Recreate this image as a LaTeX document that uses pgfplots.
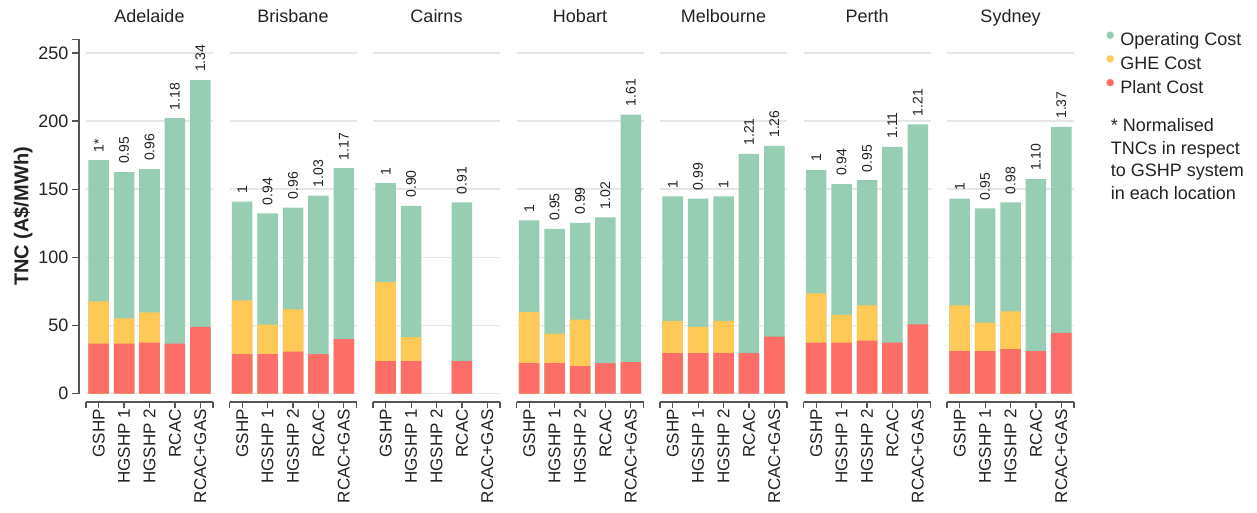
\documentclass[border=0pt]{standalone}
\usepackage{fontspec}
\setmainfont{Liberation Sans}
\usepackage{pgfplots}
\pgfplotsset{compat=1.18}
\definecolor{opc}{HTML}{97CEB3}
\definecolor{ghec}{HTML}{FEC957}
\definecolor{plc}{HTML}{FE6E68}
\definecolor{axc}{HTML}{555555}
\definecolor{gridc}{HTML}{E6E6E6}
\definecolor{txt}{HTML}{222222}
\pgfplotsset{
 panel/.style={
  scale only axis, width=127pt, height=354.4pt,
  anchor=south west,
  xmin=-0.5, xmax=4.5, ymin=0, ymax=260,
  enlargelimits=false,
  ybar, bar width=20.5pt, bar shift=0pt,
  axis x line*=bottom, axis y line*=left,
  axis x line shift=8.3pt,
  axis line style={-, draw=axc, line width=1.2pt},
  xtick={0,...,4},
  xticklabels={GSHP, HGSHP 1, HGSHP 2, RCAC, RCAC+GAS},
  extra x ticks={-0.5,4.5}, extra x tick labels={},
  ytick={0,50,...,250},
  ymajorgrids, major grid style={draw=gridc, line width=1.5pt},
  tick align=outside,
  major tick length=6.5pt,
  tick style={draw=axc, line width=1.2pt},
  xticklabel style={rotate=90, anchor=east, font=\fontsize{17}{20}\selectfont, inner xsep=0.5pt, inner ysep=0pt, text=txt},
  yticklabel style={font=\fontsize{18}{21}\selectfont, inner xsep=4pt, text=txt},
  /pgf/number format/assume math mode=true,
  title style={at={(0.5,1)}, anchor=base, yshift=10.8pt, font=\fontsize{18}{21}\selectfont, text=txt},
 },
 noy/.style={y axis line style={draw=none}, ytick style={draw=none}, yticklabels={}},
 plant/.style={fill=plc, draw=none},
 ghe/.style={fill=ghec, draw=none},
 op/.style={fill=opc, draw=none, nodes near coords, point meta=explicit symbolic,
   every node near coord/.append style={rotate=90, anchor=west, inner xsep=8pt, inner ysep=0pt, font=\fontsize{14}{16}\selectfont, text=txt}},
}
\begin{document}
\begin{tikzpicture}
\useasboundingbox (0,0) rectangle (1257pt,513pt);
% Adelaide
\begin{axis}[panel, at={(86pt,119.3pt)}, title={Adelaide},
  axis y line shift=7pt,
  extra y ticks={260}, extra y tick labels={}, extra y tick style={grid=none},
  every axis y label/.style={at={(axis description cs:-0.496,0.5)}, rotate=90, anchor=center, font=\fontsize{20}{24}\selectfont\bfseries, text=txt},
  ylabel={TNC (A\$/MWh)}]
\addplot[op] coordinates {(0,171.3) [1*] (1,162.5) [0.95] (2,164.7) [0.96] (3,202.1) [1.18] (4,230.0) [1.34]};
\addplot[ghe] coordinates {(0,67.7) (1,55.2) (2,59.6)};
\addplot[plant] coordinates {(0,36.7) (1,36.7) (2,37.4) (3,36.7) (4,49.1)};
\end{axis}
% Brisbane
\begin{axis}[panel, noy, at={(229.5pt,119.3pt)}, title={Brisbane}]
\addplot[op] coordinates {(0,141.0) [1] (1,132.2) [0.94] (2,136.6) [0.96] (3,145.4) [1.03] (4,165.4) [1.17]};
\addplot[ghe] coordinates {(0,68.4) (1,50.6) (2,61.8)};
\addplot[plant] coordinates {(0,29.1) (1,29.1) (2,30.8) (3,29.1) (4,40.1)};
\end{axis}
% Cairns
\begin{axis}[panel, noy, at={(373pt,119.3pt)}, title={Cairns}]
\addplot[op] coordinates {(0,154.4) [1] (1,137.8) [0.90] (3,140.3) [0.91]};
\addplot[ghe] coordinates {(0,81.9) (1,41.5)};
\addplot[plant] coordinates {(0,23.9) (1,23.9) (3,23.9)};
\end{axis}
% Hobart
\begin{axis}[panel, noy, at={(516.5pt,119.3pt)}, title={Hobart}]
\addplot[op] coordinates {(0,127.1) [1] (1,121.0) [0.95] (2,125.4) [0.99] (3,129.3) [1.02] (4,204.8) [1.61]};
\addplot[ghe] coordinates {(0,60.1) (1,44.0) (2,54.3)};
\addplot[plant] coordinates {(0,22.5) (1,22.5) (2,20.3) (3,22.5) (4,23.2)};
\end{axis}
% Melbourne
\begin{axis}[panel, noy, at={(660pt,119.3pt)}, title={Melbourne}]
\addplot[op] coordinates {(0,144.7) [1] (1,143.2) [0.99] (2,144.7) [1] (3,176.0) [1.21] (4,181.8) [1.26]};
\addplot[ghe] coordinates {(0,53.5) (1,49.1) (2,53.5)};
\addplot[plant] coordinates {(0,29.8) (1,29.8) (2,29.8) (3,29.8) (4,41.8)};
\end{axis}
% Perth
\begin{axis}[panel, noy, at={(803.5pt,119.3pt)}, title={Perth}]
\addplot[op] coordinates {(0,164.0) [1] (1,153.7) [0.94] (2,156.6) [0.95] (3,181.1) [1.11] (4,197.5) [1.21]};
\addplot[ghe] coordinates {(0,73.6) (1,57.9) (2,64.8)};
\addplot[plant] coordinates {(0,37.4) (1,37.4) (2,38.9) (3,37.4) (4,50.8)};
\end{axis}
% Sydney
\begin{axis}[panel, noy, at={(947pt,119.3pt)}, title={Sydney},
  legend style={draw=none, fill=none, inner sep=0pt, outer sep=0pt, at={(1,1)}, anchor=north west, xshift=32.5pt, yshift=7.8pt,
    font=\fontsize{18}{21}\selectfont, row sep=5.5pt, column sep=6.5pt,
    nodes={inner sep=0pt, text height=13pt, text depth=4pt, text=txt}},
  legend cell align=left]
\addlegendimage{legend image code/.code={\fill[opc] (0pt,6pt) circle (3.5pt);}}
\addlegendentry{Operating Cost}
\addlegendimage{legend image code/.code={\fill[ghec] (0pt,6pt) circle (3.5pt);}}
\addlegendentry{GHE Cost}
\addlegendimage{legend image code/.code={\fill[plc] (0pt,6pt) circle (3.5pt);}}
\addlegendentry{Plant Cost}
\addplot[op] coordinates {(0,143.2) [1] (1,135.9) [0.95] (2,140.3) [0.98] (3,157.4) [1.10] (4,195.7) [1.37]};
\addplot[ghe] coordinates {(0,64.8) (1,52.1) (2,60.4)};
\addplot[plant] coordinates {(0,31.3) (1,31.3) (2,32.7) (3,31.3) (4,44.7)};
\end{axis}
\node[anchor=north west, align=left, inner sep=0pt, font=\fontsize{18}{22.6}\selectfont, text=txt] at (1110.7pt,394.5pt) {* Normalised\\TNCs in respect\\to GSHP system\\in each location};
\end{tikzpicture}
\end{document}
